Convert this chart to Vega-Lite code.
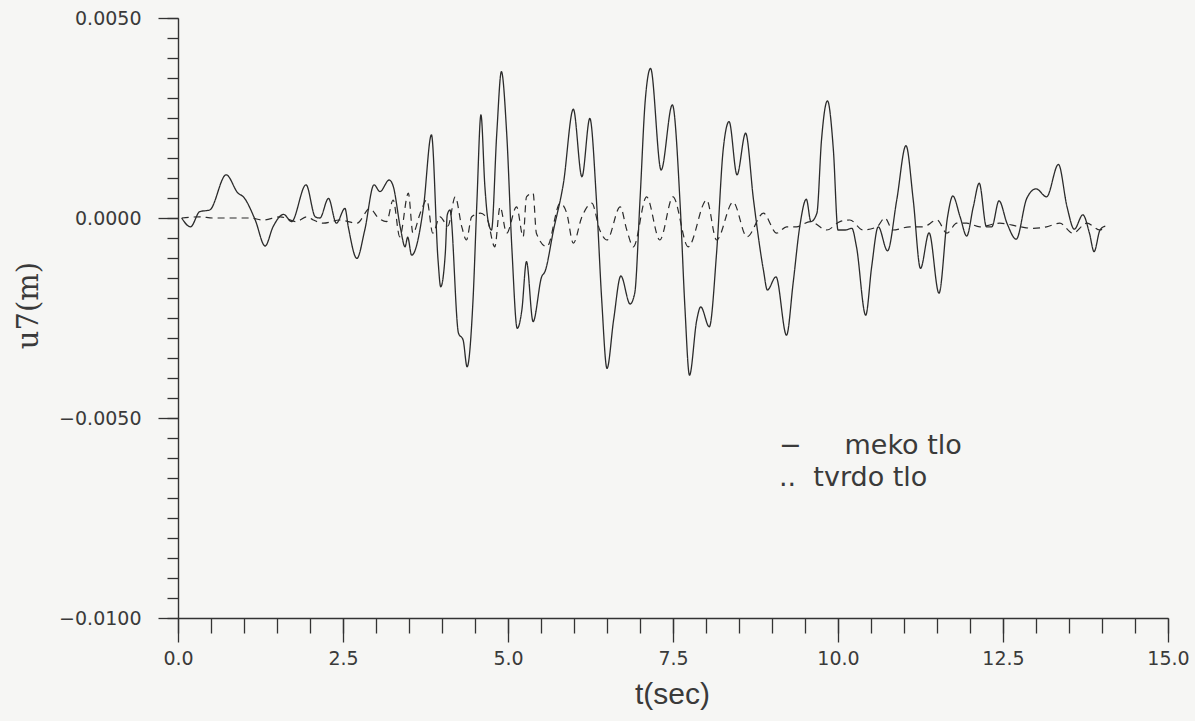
{
  "$schema": "https://vega.github.io/schema/vega-lite/v6.json",
  "width": 990,
  "height": 600,
  "autosize": "none",
  "padding": {"left": 178, "top": 18, "right": 27, "bottom": 103},
  "background": "#f6f6f4",
  "config": {"view": {"stroke": null}, "axis": {"grid": false}},
  "datasets": {
    "meko": [
      {"t":0.056,"u":0.0},{"t":0.19,"u":-0.00022},{"t":0.33,"u":0.00016},{"t":0.48,"u":0.0002},{"t":0.73,"u":0.00108},
      {"t":0.91,"u":0.00062},{"t":0.99,"u":0.00053},{"t":1.17,"u":-0.00005},{"t":1.32,"u":-0.0007},{"t":1.44,"u":-0.00022},
      {"t":1.60,"u":0.00009},{"t":1.72,"u":-0.00009},{"t":1.94,"u":0.00083},{"t":2.08,"u":0.00003},{"t":2.15,"u":0.0},
      {"t":2.28,"u":0.00049},{"t":2.40,"u":-0.00013},{"t":2.53,"u":0.00024},{"t":2.58,"u":-0.00022},{"t":2.71,"u":-0.00101},
      {"t":2.83,"u":-0.0003},{"t":2.97,"u":0.00083},{"t":3.06,"u":0.00066},{"t":3.20,"u":0.00095},{"t":3.26,"u":0.0008},
      {"t":3.37,"u":-0.00025},{"t":3.44,"u":-0.00072},{"t":3.48,"u":-0.00048},{"t":3.54,"u":-0.00093},{"t":3.72,"u":0.00028},
      {"t":3.84,"u":0.00208},{"t":3.94,"u":-0.00105},{"t":3.98,"u":-0.00172},{"t":4.05,"u":-0.00088},{"t":4.08,"u":0.00008},
      {"t":4.12,"u":0.0002},{"t":4.25,"u":-0.00288},{"t":4.32,"u":-0.00305},{"t":4.38,"u":-0.00372},{"t":4.47,"u":-0.00205},
      {"t":4.53,"u":0.00045},{"t":4.59,"u":0.00258},{"t":4.65,"u":0.00078},{"t":4.70,"u":-0.00009},{"t":4.75,"u":-0.0003},
      {"t":4.83,"u":0.00212},{"t":4.90,"u":0.00366},{"t":4.98,"u":0.00212},{"t":5.06,"u":-0.0008},{"t":5.14,"u":-0.00276},
      {"t":5.21,"u":-0.0023},{"t":5.28,"u":-0.00109},{"t":5.38,"u":-0.00259},{"t":5.51,"u":-0.00147},{"t":5.56,"u":-0.00134},
      {"t":5.69,"u":-0.0003},{"t":5.84,"u":0.00087},{"t":5.99,"u":0.00272},{"t":6.12,"u":0.00103},{"t":6.24,"u":0.00249},
      {"t":6.34,"u":0.00045},{"t":6.42,"u":-0.00205},{"t":6.50,"u":-0.00376},{"t":6.60,"u":-0.00255},{"t":6.71,"u":-0.00145},
      {"t":6.85,"u":-0.00215},{"t":6.92,"u":-0.00188},{"t":7.00,"u":0.00045},{"t":7.08,"u":0.00295},{"t":7.16,"u":0.00374},
      {"t":7.32,"u":0.0012},{"t":7.49,"u":0.00283},{"t":7.61,"u":0.00028},{"t":7.68,"u":-0.00222},{"t":7.75,"u":-0.00393},
      {"t":7.86,"u":-0.00255},{"t":7.92,"u":-0.00222},{"t":8.05,"u":-0.00272},{"t":8.16,"u":-0.00088},{"t":8.26,"u":0.0017},
      {"t":8.35,"u":0.00241},{"t":8.47,"u":0.00108},{"t":8.60,"u":0.00212},{"t":8.72,"u":0.00045},{"t":8.87,"u":-0.0013},
      {"t":8.93,"u":-0.0018},{"t":9.06,"u":-0.00147},{"t":9.22,"u":-0.00293},{"t":9.32,"u":-0.00163},{"t":9.42,"u":-0.00022},
      {"t":9.52,"u":0.00047},{"t":9.59,"u":-0.00009},{"t":9.68,"u":0.00012},{"t":9.75,"u":0.00195},{"t":9.84,"u":0.00293},
      {"t":9.93,"u":0.0017},{"t":10.00,"u":-0.0003},{"t":10.11,"u":-0.0003},{"t":10.21,"u":-0.00026},{"t":10.28,"u":-0.00072},
      {"t":10.42,"u":-0.00243},{"t":10.51,"u":-0.00122},{"t":10.61,"u":-0.00022},{"t":10.75,"u":-0.00082},{"t":10.89,"u":0.00045},
      {"t":11.03,"u":0.00181},{"t":11.14,"u":0.00045},{"t":11.25,"u":-0.00126},{"t":11.38,"u":-0.00037},{"t":11.53,"u":-0.00188},
      {"t":11.66,"u":0.00003},{"t":11.74,"u":0.00055},{"t":11.85,"u":0.00003},{"t":11.95,"u":-0.00045},{"t":12.05,"u":0.00028},
      {"t":12.14,"u":0.00087},{"t":12.25,"u":-0.00022},{"t":12.33,"u":-0.00022},{"t":12.44,"u":0.00043},{"t":12.56,"u":-0.00013},
      {"t":12.70,"u":-0.00053},{"t":12.86,"u":0.00049},{"t":13.00,"u":0.00073},{"t":13.16,"u":0.00053},{"t":13.34,"u":0.00134},
      {"t":13.47,"u":0.00028},{"t":13.58,"u":-0.00028},{"t":13.71,"u":0.00008},{"t":13.81,"u":-0.00038},{"t":13.88,"u":-0.00084},
      {"t":13.97,"u":-0.0003},{"t":14.05,"u":-0.0002}
    ],
    "tvrdo": [
      {"t":0.056,"u":0.0},{"t":0.33,"u":0.00003},{"t":0.53,"u":0.0},{"t":1.09,"u":0.0},{"t":1.29,"u":-0.00005},
      {"t":1.55,"u":0.00003},{"t":1.79,"u":-0.00009},{"t":1.95,"u":0.00003},{"t":2.05,"u":-0.00005},{"t":2.20,"u":-0.00013},
      {"t":2.45,"u":-0.00005},{"t":2.71,"u":-0.00013},{"t":2.91,"u":0.00024},{"t":3.02,"u":0.00003},{"t":3.16,"u":-0.00009},
      {"t":3.26,"u":0.00045},{"t":3.36,"u":-0.00047},{"t":3.49,"u":0.00062},{"t":3.56,"u":-0.00038},{"t":3.67,"u":0.00012},
      {"t":3.77,"u":0.00045},{"t":3.86,"u":-0.00038},{"t":3.97,"u":0.00003},{"t":4.09,"u":-0.0002},{"t":4.20,"u":0.00053},
      {"t":4.30,"u":-0.00022},{"t":4.37,"u":-0.00055},{"t":4.45,"u":0.00003},{"t":4.58,"u":0.00012},{"t":4.68,"u":0.0},
      {"t":4.80,"u":-0.00072},{"t":4.88,"u":0.00028},{"t":4.98,"u":-0.00038},{"t":5.13,"u":0.00028},{"t":5.23,"u":-0.00047},
      {"t":5.28,"u":0.00053},{"t":5.38,"u":0.00062},{"t":5.43,"u":-0.00038},{"t":5.59,"u":-0.00072},{"t":5.79,"u":0.00037},
      {"t":5.89,"u":0.00012},{"t":5.99,"u":-0.00063},{"t":6.12,"u":0.00003},{"t":6.27,"u":0.00037},{"t":6.39,"u":-0.0003},
      {"t":6.50,"u":-0.00055},{"t":6.70,"u":0.00028},{"t":6.80,"u":-0.0003},{"t":6.90,"u":-0.00072},{"t":7.10,"u":0.00053},
      {"t":7.30,"u":-0.00055},{"t":7.50,"u":0.00053},{"t":7.73,"u":-0.00072},{"t":8.01,"u":0.00045},{"t":8.16,"u":-0.00055},
      {"t":8.41,"u":0.0004},{"t":8.62,"u":-0.00047},{"t":8.87,"u":0.00012},{"t":9.07,"u":-0.00038},{"t":9.22,"u":-0.00022},
      {"t":9.37,"u":-0.00022},{"t":9.58,"u":-0.00009},{"t":9.83,"u":-0.0003},{"t":10.03,"u":-0.00009},{"t":10.18,"u":-0.00005},
      {"t":10.38,"u":-0.0003},{"t":10.59,"u":-0.00022},{"t":10.71,"u":0.0},{"t":10.83,"u":-0.0003},{"t":11.09,"u":-0.00022},
      {"t":11.29,"u":-0.00022},{"t":11.50,"u":-0.00005},{"t":11.65,"u":-0.00038},{"t":11.80,"u":-0.00013},{"t":11.95,"u":-0.00013},
      {"t":12.15,"u":-0.00022},{"t":12.45,"u":-0.00013},{"t":12.76,"u":-0.00022},{"t":12.96,"u":-0.00026},{"t":13.16,"u":-0.00022},
      {"t":13.36,"u":-0.00013},{"t":13.56,"u":-0.00038},{"t":13.77,"u":-0.00013},{"t":13.97,"u":-0.0003},{"t":14.05,"u":-0.0002}
    ]
  },
  "layer": [
    {
      "data": {"name": "meko"},
      "transform": [{"calculate": "'meko tlo'", "as": "tlo"}],
      "mark": {"type": "line", "interpolate": "monotone", "color": "#2b2b2b", "strokeWidth": 1.3},
      "encoding": {
        "x": {"field": "t", "type": "quantitative",
              "scale": {"domain": [0, 15], "nice": false, "zero": false},
              "axis": {"orient": "bottom", "values": [0,0.5,1,1.5,2,2.5,3,3.5,4,4.5,5,5.5,6,6.5,7,7.5,8,8.5,9,9.5,10,10.5,11,11.5,12,12.5,13,13.5,14,14.5,15],
                       "labels": false, "title": null, "tickSize": 15, "tickWidth": 1.3, "tickColor": "#333",
                       "domain": true, "domainColor": "#333", "domainWidth": 1.4}},
        "y": {"field": "u", "type": "quantitative",
              "scale": {"domain": [-0.01, 0.005], "nice": false, "zero": false},
              "axis": {"orient": "left", "values": [-0.01,-0.0095,-0.009,-0.0085,-0.008,-0.0075,-0.007,-0.0065,-0.006,-0.0055,-0.005,-0.0045,-0.004,-0.0035,-0.003,-0.0025,-0.002,-0.0015,-0.001,-0.0005,0,0.0005,0.001,0.0015,0.002,0.0025,0.003,0.0035,0.004,0.0045,0.005],
                       "labels": false, "title": null, "tickSize": 11, "tickWidth": 1.3, "tickColor": "#333",
                       "domain": true, "domainColor": "#333", "domainWidth": 1.4}},
        "strokeDash": {"field": "tlo", "type": "nominal",
                       "scale": {"domain": ["meko tlo", "tvrdo tlo"], "range": [[1, 0], [7, 5]]},
                       "legend": {"orient": "none", "legendX": 570, "legendY": 414, "title": null, "padding": 0,
                                  "symbolSize": 1, "symbolOpacity": 0, "symbolStrokeWidth": 0, "labelOffset": 4,
                                  "labelFont": "DejaVu Sans", "labelFontSize": 27, "labelColor": "#3a3a3a", "rowPadding": 4,
                                  "labelLimit": 400,
                                  "labelExpr": "datum.label == 'meko tlo' ? '\u2212\u00a0\u00a0\u00a0\u00a0\u00a0meko\u00a0tlo' : '..\u00a0\u00a0tvrdo\u00a0tlo'"}}
      }
    },
    {
      "data": {"name": "tvrdo"},
      "transform": [{"calculate": "'tvrdo tlo'", "as": "tlo"}],
      "mark": {"type": "line", "interpolate": "monotone", "color": "#2b2b2b", "strokeWidth": 1.2},
      "encoding": {
        "x": {"field": "t", "type": "quantitative", "scale": {"domain": [0, 15], "nice": false, "zero": false}, "axis": null},
        "y": {"field": "u", "type": "quantitative", "scale": {"domain": [-0.01, 0.005], "nice": false, "zero": false}, "axis": null},
        "strokeDash": {"field": "tlo", "type": "nominal"}
      }
    },
    {
      "data": {"name": "meko"},
      "mark": {"type": "line", "opacity": 0},
      "encoding": {
        "x": {"field": "t", "type": "quantitative",
              "scale": {"domain": [0, 15], "nice": false, "zero": false},
              "axis": {"orient": "bottom", "values": [0, 2.5, 5, 7.5, 10, 12.5, 15], "format": ".1f",
                       "tickSize": 24, "tickWidth": 1.3, "tickColor": "#333", "domain": false,
                       "labelFont": "DejaVu Sans", "labelFontSize": 19, "labelColor": "#3a3a3a", "labelPadding": 7,
                       "labelFlush": false, "labelOverlap": false,
                       "title": "t(sec)", "titleFont": "Liberation Sans", "titleFontSize": 30, "titleFontWeight": "normal",
                       "titleColor": "#3a3a3a", "titleX": 494, "titleY": 76, "titleBaseline": "middle"}},
        "y": {"field": "u", "type": "quantitative",
              "scale": {"domain": [-0.01, 0.005], "nice": false, "zero": false},
              "axis": {"orient": "left", "values": [-0.01, -0.005, 0, 0.005], "format": ".4f",
                       "tickSize": 20, "tickWidth": 1.3, "tickColor": "#333", "domain": false,
                       "labelFont": "DejaVu Sans", "labelFontSize": 19, "labelColor": "#3a3a3a", "labelPadding": 17,
                       "labelFlush": false, "labelOverlap": false,
                       "title": "u7(m)", "titleFont": "DejaVu Serif", "titleFontSize": 29, "titleFontWeight": "normal",
                       "titleColor": "#3a3a3a", "titleX": -150, "titleY": 287, "titleBaseline": "middle"}}
      }
    }
  ],
  "resolve": {"axis": {"x": "independent", "y": "independent"}}
}
